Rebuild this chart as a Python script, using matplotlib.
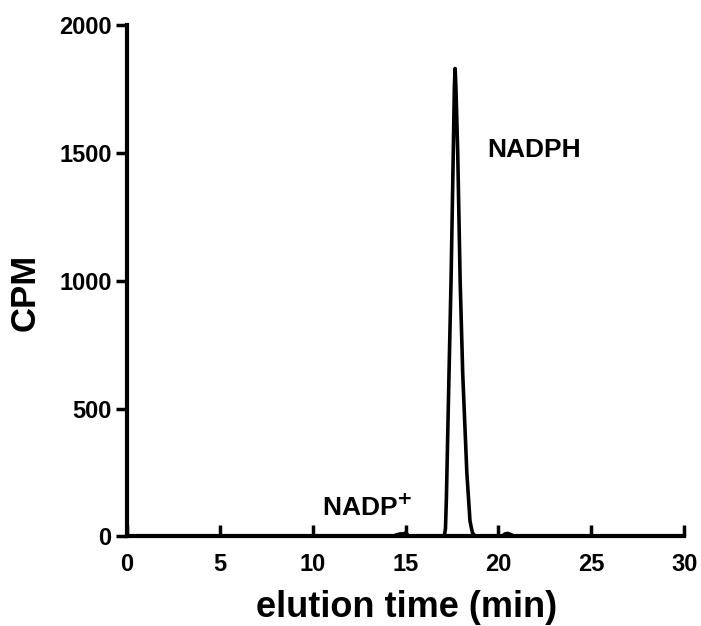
import matplotlib.pyplot as plt
import numpy as np

plt.rcParams["font.family"] = ["Liberation Sans", "DejaVu Sans"]

# elution profile
time_min = [0.0, 5.0, 10.0, 14.3, 14.5, 14.7, 14.9, 15.0, 15.2, 17.0, 17.1,
            17.15, 17.2, 17.34, 17.45, 17.57, 17.63, 17.67, 17.71, 17.81,
            17.94, 18.08, 18.3, 18.47, 18.6, 18.75, 20.2, 20.35, 20.5, 20.65,
            20.9, 30.0]
cpm = [0, 0, 0, 0, 6, 10, 10, 14, 0, 0, 8,
       30, 150, 634, 1000, 1500, 1760, 1830, 1760, 1500,
       1000, 634, 250, 60, 15, 0, 0, 10, 12, 8,
       0, 0]

xticks = [0, 5, 10, 15, 20, 25, 30]
yticks = [0, 500, 1000, 1500, 2000]

fig = plt.figure(figsize=(7.01, 6.26), dpi=100)
ax = fig.add_axes([0.181, 0.143, 0.795, 0.817])

ax.plot(time_min, cpm, color='black', lw=2.6, solid_joinstyle='round')

ax.set_xlim(0, 30)
ax.set_ylim(0, 2000)
ax.set_xticks(xticks)
ax.set_yticks(yticks)
for s in ['top', 'right']:
    ax.spines[s].set_visible(False)
for s in ['left', 'bottom']:
    ax.spines[s].set_linewidth(3)
ax.tick_params(axis='x', direction='in', length=8, width=2.5, pad=12,
               labelsize=17)
ax.tick_params(axis='y', direction='out', length=8, width=2.5, pad=3,
               labelsize=17)
for lab in ax.get_xticklabels() + ax.get_yticklabels():
    lab.set_fontweight('bold')

ax.set_xlabel('elution time (min)', fontsize=26, fontweight='bold')
ax.set_ylabel('CPM', fontsize=25, fontweight='bold')
ax.xaxis.set_label_coords(0.502, -0.105)
ax.yaxis.set_label_coords(-0.153, 0.478)

ax.text(19.4, 1511, 'NADPH', fontsize=19, fontweight='bold',
        va='center', ha='left')
ax.text(10.5, 113, r'NADP$^{\mathbf{+}}$', fontsize=19, fontweight='bold',
        va='center', ha='left')

plt.savefig('out.png', dpi=100)
